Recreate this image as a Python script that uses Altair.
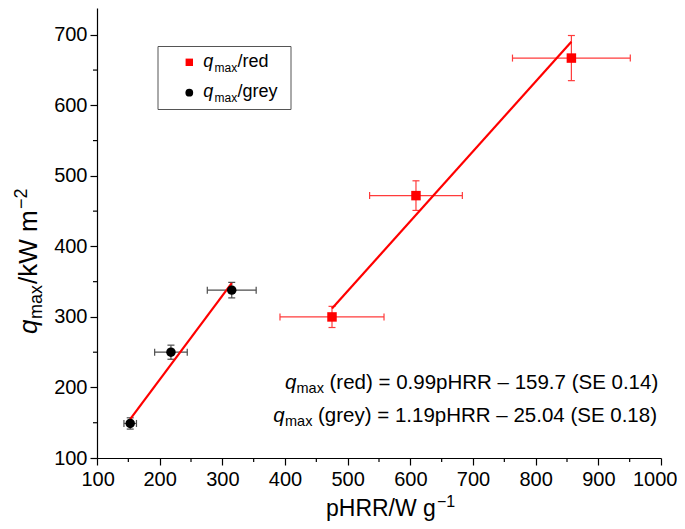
import altair as alt
import pandas as pd

# ---- data ----
red_x = [475, 609, 857]
red_y = [300, 472, 667]
red_xerr = [83, 74, 94]
red_yerr = [15, 21, 32]

grey_x = [153, 218, 315]
grey_y = [149, 250, 338]
grey_xerr = [10, 26, 39]
grey_yerr = [8, 10, 11]

red_fit_x = [475, 857]
red_fit_y = [312, 690]
grey_fit_x = [153, 315]
grey_fit_y = [155, 348]

x_ticks = list(range(100, 1001, 100))
y_ticks = list(range(100, 701, 100))
x_minor = list(range(150, 1000, 100))
y_minor = list(range(150, 701, 100))

# ---- layout ----
W, H = 564, 450
OX, OY = 97, 8          # page position of the plot origin
FONT = "Liberation Sans"
RED = "#ff0000"
RED_ERR = "#ff3b3b"
GREY_ERR = "#4d4d4d"

xs = alt.Scale(domain=[100, 1000], nice=False, zero=False)
ys = alt.Scale(domain=[100, 738], nice=False, zero=False)
X_AX = alt.Axis(values=x_ticks, title=None, labelPadding=4, labelOverlap=False,
                format="d", labelFlush=True, labelFlushOffset=16)
Y_AX = alt.Axis(values=y_ticks, title=None, labelPadding=3, labelOverlap=False,
                format="d", labelFlush=False)


def pts_df(x, y, xe, ye):
    return pd.DataFrame({
        "x": x, "y": y,
        "xlo": [a - b for a, b in zip(x, xe)],
        "xhi": [a + b for a, b in zip(x, xe)],
        "ylo": [a - b for a, b in zip(y, ye)],
        "yhi": [a + b for a, b in zip(y, ye)],
    })


red_df = pts_df(red_x, red_y, red_xerr, red_yerr)
grey_df = pts_df(grey_x, grey_y, grey_xerr, grey_yerr)


def X(f):
    return alt.X(f"{f}:Q", scale=xs, axis=X_AX)


def Y(f):
    return alt.Y(f"{f}:Q", scale=ys, axis=Y_AX)


def errorbars(df, color):
    base = alt.Chart(df)
    hbar = base.mark_rule(color=color, strokeWidth=1.2).encode(
        x=X("xlo"), x2="xhi", y=Y("y"))
    vbar = base.mark_rule(color=color, strokeWidth=1.2).encode(
        x=X("x"), y=Y("ylo"), y2="yhi")
    caps = []
    for f in ("xlo", "xhi"):
        caps.append(base.mark_tick(orient="vertical", size=7, thickness=1.2,
                                   color=color, opacity=1).encode(x=X(f), y=Y("y")))
    for f in ("ylo", "yhi"):
        caps.append(base.mark_tick(orient="horizontal", size=7, thickness=1.2,
                                   color=color, opacity=1).encode(x=X("x"), y=Y(f)))
    return [hbar, vbar] + caps


one = pd.DataFrame({"k": [0]})


def txt(s, px, py, size, italic=False, angle=0):
    kw = dict(text=s, align="left", baseline="alphabetic", font=FONT,
              fontSize=size, color="black")
    if italic:
        kw["fontStyle"] = "italic"
    if angle:
        kw["angle"] = angle
    return alt.Chart(one).mark_text(**kw).encode(
        x=alt.value(px - OX), y=alt.value(py - OY))


layers = []

# minor ticks
layers.append(alt.Chart(pd.DataFrame({"v": x_minor})).mark_rule(color="black", strokeWidth=1.2).encode(
    x=X("v"), y=alt.value(H), y2=alt.value(H + 4)))
layers.append(alt.Chart(pd.DataFrame({"v": y_minor})).mark_rule(color="black", strokeWidth=1.2).encode(
    y=Y("v"), x=alt.value(0), x2=alt.value(-4)))

# error bars
layers += errorbars(grey_df, GREY_ERR)
layers += errorbars(red_df, RED_ERR)

# fit lines
layers.append(alt.Chart(pd.DataFrame({"x": red_fit_x, "y": red_fit_y})).mark_line(
    color=RED, strokeWidth=2.2).encode(x=X("x"), y=Y("y")))
layers.append(alt.Chart(pd.DataFrame({"x": grey_fit_x, "y": grey_fit_y})).mark_line(
    color=RED, strokeWidth=2.2).encode(x=X("x"), y=Y("y")))

# points
layers.append(alt.Chart(red_df).mark_square(size=90, color=RED, opacity=1).encode(
    x=X("x"), y=Y("y")))
layers.append(alt.Chart(grey_df).mark_circle(size=90, color="black", opacity=1).encode(
    x=X("x"), y=Y("y")))

# legend box
layers.append(alt.Chart(one).mark_rect(fill="white", stroke="#555555", strokeWidth=1).encode(
    x=alt.value(158 - OX), x2=alt.value(291 - OX), y=alt.value(46.5 - OY), y2=alt.value(109.5 - OY)))
layers.append(alt.Chart(one).mark_square(size=55, color=RED, opacity=1).encode(
    x=alt.value(189.3 - OX), y=alt.value(62.3 - OY)))
layers.append(alt.Chart(one).mark_circle(size=60, color="black", opacity=1).encode(
    x=alt.value(189.3 - OX), y=alt.value(92.7 - OY)))
layers += [
    txt("q", 203.3, 67, 18, italic=True),
    txt("max", 214.5, 72, 12),
    txt("/red", 237.5, 67, 18),
    txt("q", 203.3, 97, 18, italic=True),
    txt("max", 214.5, 102, 12),
    txt("/grey", 237.5, 97, 18),
]

# equations
layers += [
    txt("q", 285, 389, 20.5, italic=True),
    txt("max", 296.5, 393, 14.5),
    txt("(red) = 0.99pHRR \u2013 159.7 (SE 0.14)", 329.5, 389, 20.5),
    txt("q", 273.3, 422, 20.5, italic=True),
    txt("max", 285, 426, 14.5),
    txt("(grey) = 1.19pHRR \u2013 25.04 (SE 0.18)", 318, 422, 20.5),
]

# axis titles
layers += [
    txt("pHRR/W g", 326, 516, 23),
    txt("\u22121", 437, 507, 16),
    txt("q", 37, 334, 26, italic=True, angle=270),
    txt("max", 42, 319, 18, angle=270),
    txt("/kW m", 37, 284, 26, angle=270),
    txt("\u22122", 27, 209, 18, angle=270),
]

chart = alt.layer(*layers).properties(
    width=W, height=H,
    padding={"left": 89, "top": 0, "right": 16, "bottom": 63},
    autosize=alt.AutoSizeParams(type="none"),
    background="white",
).configure_view(stroke=None).configure_axis(
    labelFont=FONT, labelFontSize=20, labelColor="black",
    tickColor="black", tickSize=7, tickWidth=1.2,
    domainColor="black", domainWidth=1.2, grid=False,
)

chart.save("out.html", embed_options={"renderer": "svg", "actions": False})
